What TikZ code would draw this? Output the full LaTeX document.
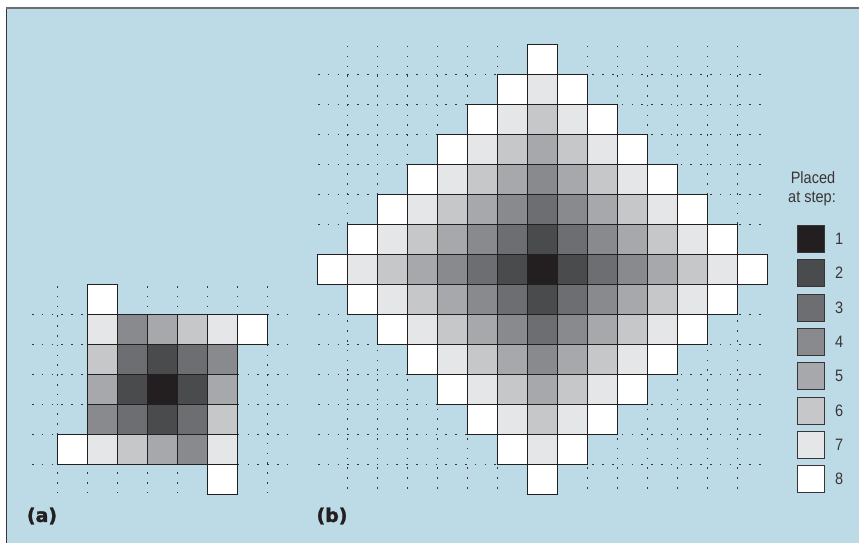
\documentclass[tikz,border=0pt]{standalone}
\usepackage{fontspec}
\setmainfont{Liberation Sans}[FakeStretch=0.88]
\newfontfamily\labfont{DejaVu Sans}[BoldFont={DejaVu Sans Bold}, BoldFeatures={FakeBold=1.5}]
\definecolor{bg}{RGB}{189,219,231}
\definecolor{s1}{RGB}{35,31,32}
\definecolor{s2}{RGB}{74,75,77}
\definecolor{s3}{RGB}{108,110,113}
\definecolor{s4}{RGB}{137,138,141}
\definecolor{s5}{RGB}{166,168,171}
\definecolor{s6}{RGB}{198,199,201}
\definecolor{s7}{RGB}{229,230,232}
\definecolor{s8}{RGB}{255,255,255}
\definecolor{ink}{RGB}{35,31,32}
\tikzset{
  cellb/.style={draw=ink, line width=1.2pt},
  dotgrid/.style={draw=ink!90, line width=1.5pt, dash pattern=on 1.5pt off 8.3pt},
  legbox/.style={draw=ink!90, line width=1.1pt, minimum size=27pt, inner sep=0pt},
  legnum/.style={font=\fontsize{16.5}{19}\selectfont, text=ink!90, inner sep=0pt},
  legtitle/.style={font=\fontsize{16.5}{19}\selectfont, text=ink!90, inner sep=0pt},
  lab/.style={font=\labfont\bfseries\fontsize{19}{21}\selectfont, text=ink, inner sep=0pt}
}
\begin{document}
\begin{tikzpicture}[x=1pt,y=-1pt]
\useasboundingbox (0,0) rectangle (859,543);
\def\csz{30}
% background frame
\fill[bg] (6,8) rectangle (859,543);
\draw[line width=1.2pt, ink!90] (6.6,543) -- (6.6,8);
\draw[line width=1.4pt, ink!65] (6,8) -- (859,8);
% ---------- (b) dotted grid ----------
\foreach \k in {-7,...,6}{
  \draw[dotgrid] (318,{269.5+(\k+0.5)*\csz}) -- (767.5,{269.5+(\k+0.5)*\csz});
  \draw[dotgrid] ({542.5+(\k+0.5)*\csz},46) -- ({542.5+(\k+0.5)*\csz},494.5);
}
% ---------- (b) cells ----------
\foreach \i in {-7,...,7}{
  \foreach \j in {-7,...,7}{
    \pgfmathtruncatemacro\dd{abs(\i)+abs(\j)+1}
    \ifnum\dd<9
      \draw[cellb, fill=s\dd] ({542.5+(\i-0.5)*\csz},{269.5+(\j-0.5)*\csz}) rectangle +(\csz,\csz);
    \fi
  }
}
% ---------- (a) dotted grid ----------
\foreach \k in {-3.5,-2.5,...,3.5}{
  \draw[dotgrid] ({162.5+\k*\csz},286) -- ({162.5+\k*\csz},494.5);
}
\foreach \k in {-2.5,-1.5,...,2.5}{
  \draw[dotgrid] (32,{389.5+\k*\csz}) -- (293,{389.5+\k*\csz});
}
% ---------- (a) cells ----------
\foreach \i/\j/\s in {
  -2/-3/8,
  -2/-2/7, -1/-2/4, 0/-2/5, 1/-2/6, 2/-2/7, 3/-2/8,
  -2/-1/6, -1/-1/3, 0/-1/2, 1/-1/3, 2/-1/4,
  -2/0/5, -1/0/2, 0/0/1, 1/0/2, 2/0/5,
  -2/1/4, -1/1/3, 0/1/2, 1/1/3, 2/1/6,
  -3/2/8, -2/2/7, -1/2/6, 0/2/5, 1/2/4, 2/2/7,
  2/3/8}{
  \draw[cellb, fill=s\s] ({162.5+(\i-0.5)*\csz},{389.5+(\j-0.5)*\csz}) rectangle +(\csz,\csz);
}
% ---------- legend ----------
\node[legtitle] (t1) at (813,178) {Placed};
\node[legtitle] (t2) at (812,199) {at step:};
\foreach \n/\yy in {1/239,2/273,3/308,4/342,5/376,6/411,7/445,8/479}{
  \node[legbox, fill=s\n] (box\n) at (811,\yy) {};
  \node[legnum, anchor=west] (num\n) at (835,\yy) {\n};
}
% ---------- labels ----------
\node[lab] (la) at (42,516) {(a)};
\node[lab] (lb) at (332,516) {(b)};
\end{tikzpicture}
\end{document}
